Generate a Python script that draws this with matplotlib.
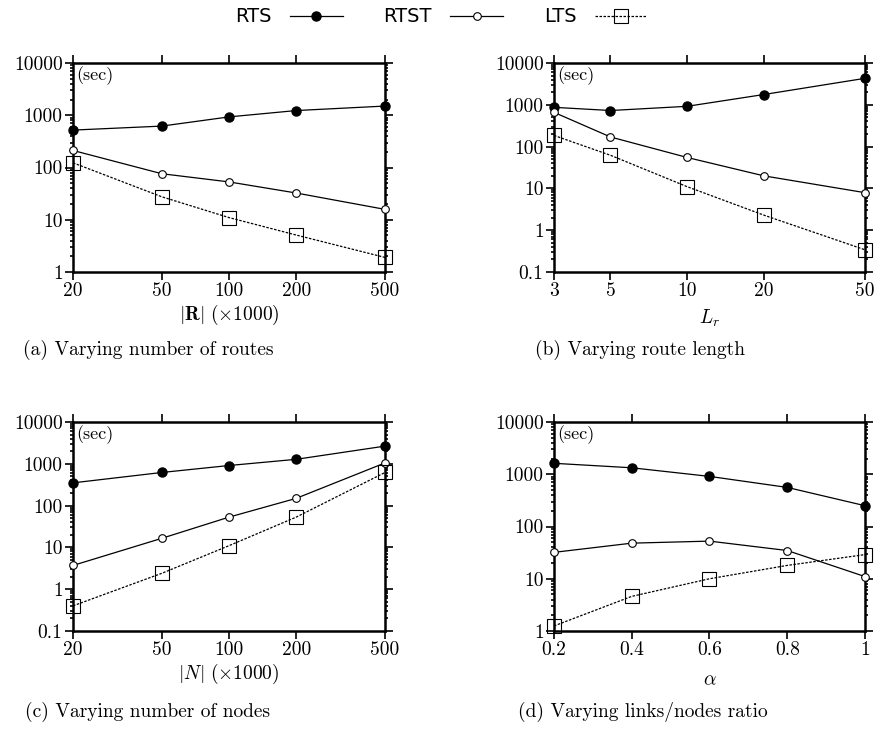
import matplotlib
matplotlib.use("Agg")
import matplotlib.pyplot as plt
from matplotlib.lines import Line2D
from matplotlib.ticker import LogLocator, FixedLocator, NullFormatter, NullLocator

plt.rcParams["mathtext.fontset"] = "cm"
plt.rcParams["axes.formatter.use_mathtext"] = True

SERIF = "cmr10"

# (a) number of routes (x1000)
routes = [20, 50, 100, 200, 500]
routes_rts = [520, 620, 930, 1230, 1500]
routes_rtst = [212, 76, 53, 32.5, 15.8]
routes_lts = [123, 27.5, 11, 5.1, 1.9]

# (b) route length
lengths = [3, 5, 10, 20, 50]
lengths_rts = [870, 730, 920, 1760, 4300]
lengths_rtst = [660, 170, 55, 20, 7.9]
lengths_lts = [185, 62, 11, 2.3, 0.34]

# (c) number of nodes (x1000)
nodes = [20, 50, 100, 200, 500]
nodes_rts = [350, 620, 910, 1280, 2650]
nodes_rtst = [3.7, 16.5, 53, 149, 1050]
nodes_lts = [0.40, 2.4, 11, 53, 620]

# (d) links/nodes ratio
ratios = [0.2, 0.4, 0.6, 0.8, 1.0]
ratios_rts = [1620, 1330, 910, 560, 250]
ratios_rtst = [32, 48, 52.5, 34.7, 11]
ratios_lts = [1.25, 4.6, 10, 18, 29]

x_labels = [r"$|\mathbf{R}|\ (\times 1000)$", r"$L_r$",
            r"$|N|\ (\times 1000)$", r"$\alpha$"]
captions = ["(a) Varying number of routes", "(b) Varying route length",
            "(c) Varying number of nodes", "(d) Varying links/nodes ratio"]

W, H = 879, 731
fig = plt.figure(figsize=(W / 100, H / 100), dpi=100)


def box(l, t, r, b):
    return [l / W, 1 - b / H, (r - l) / W, (b - t) / H]


panels = [
    dict(rect=box(73, 63, 385, 272), x=routes, series=(routes_rts, routes_rtst, routes_lts),
         xlog=True, xlim=(20, 500), ylim=(1, 10000), lpad=2,
         xticks=[20, 50, 100, 200, 500], xtl=["20", "50", "100", "200", "500"]),
    dict(rect=box(554, 63, 865, 272), x=lengths, series=(lengths_rts, lengths_rtst, lengths_lts),
         xlog=True, xlim=(3, 50), ylim=(0.1, 10000), lpad=5,
         xticks=[3, 5, 10, 20, 50], xtl=["3", "5", "10", "20", "50"]),
    dict(rect=box(73, 422, 385, 631), x=nodes, series=(nodes_rts, nodes_rtst, nodes_lts),
         xlog=True, xlim=(20, 500), ylim=(0.1, 10000), lpad=2,
         xticks=[20, 50, 100, 200, 500], xtl=["20", "50", "100", "200", "500"]),
    dict(rect=box(554, 422, 865, 631), x=ratios, series=(ratios_rts, ratios_rtst, ratios_lts),
         xlog=False, xlim=(0.2, 1.0), ylim=(1, 10000), lpad=8,
         xticks=[0.2, 0.4, 0.6, 0.8, 1.0], xtl=["0.2", "0.4", "0.6", "0.8", "1"]),
]

styles = [
    dict(color="black", lw=0.9, ls="-", marker="o", ms=6.5, mfc="black", mec="black"),
    dict(color="black", lw=0.9, ls="-", marker="o", ms=5.5, mfc="white", mec="black", mew=0.8),
    dict(color="black", lw=0.9, ls=(0, (2, 1.2)), marker="s", ms=10, mfc="none", mec="black", mew=0.8),
]

yticklabel = {0.1: "0.1", 1: "1", 10: "10", 100: "100", 1000: "1000", 10000: "10000"}

for i, p in enumerate(panels):
    ax = fig.add_axes(p["rect"])
    for ys, st in zip(p["series"], styles):
        ax.plot(p["x"], ys, clip_on=False, zorder=3, **st)
    if p["xlog"]:
        ax.set_xscale("log")
    ax.set_yscale("log")
    ax.set_xlim(*p["xlim"])
    ax.set_ylim(*p["ylim"])
    ax.xaxis.set_major_locator(FixedLocator(p["xticks"]))
    ax.xaxis.set_minor_locator(NullLocator())
    ax.set_xticklabels(p["xtl"], fontfamily=SERIF, fontsize=14)
    yt = [v for v in yticklabel if p["ylim"][0] <= v <= p["ylim"][1]]
    ax.yaxis.set_major_locator(FixedLocator(yt))
    ax.set_yticklabels([yticklabel[v] for v in yt], fontfamily=SERIF, fontsize=14)
    ax.yaxis.set_minor_locator(LogLocator(base=10, subs=range(2, 10), numticks=20))
    ax.yaxis.set_minor_formatter(NullFormatter())
    ax.tick_params(which="both", direction="out", top=True, right=True, width=1.2,
                   color="black", pad=2)
    ax.tick_params(which="major", length=5.5)
    ax.tick_params(which="minor", length=2.5)
    for s in ax.spines.values():
        s.set_linewidth(1.8)
    ax.text(0.012, 0.985, "(sec)", transform=ax.transAxes, ha="left", va="top",
            fontfamily=SERIF, fontsize=13)
    ax.set_xlabel(x_labels[i], fontsize=14, labelpad=p["lpad"])

fig.text(148 / W, 1 - 350 / H, captions[0], ha="center", va="center", fontfamily=SERIF, fontsize=14)
fig.text(640 / W, 1 - 350 / H, captions[1], ha="center", va="center", fontfamily=SERIF, fontsize=14)
fig.text(148 / W, 1 - 712 / H, captions[2], ha="center", va="center", fontfamily=SERIF, fontsize=14)
fig.text(643 / W, 1 - 712 / H, captions[3], ha="center", va="center", fontfamily=SERIF, fontsize=14)

handles = [Line2D([], [], **st) for st in styles]
fig.legend(handles, ["RTS", "RTST", "LTS"], loc="center", bbox_to_anchor=(0.502, 1 - 17 / H),
           ncol=3, frameon=False, markerfirst=False, handlelength=2.7, handletextpad=0.95,
           columnspacing=2.1, prop={"family": "DejaVu Sans", "size": 14})

fig.savefig("out.png", dpi=100)
